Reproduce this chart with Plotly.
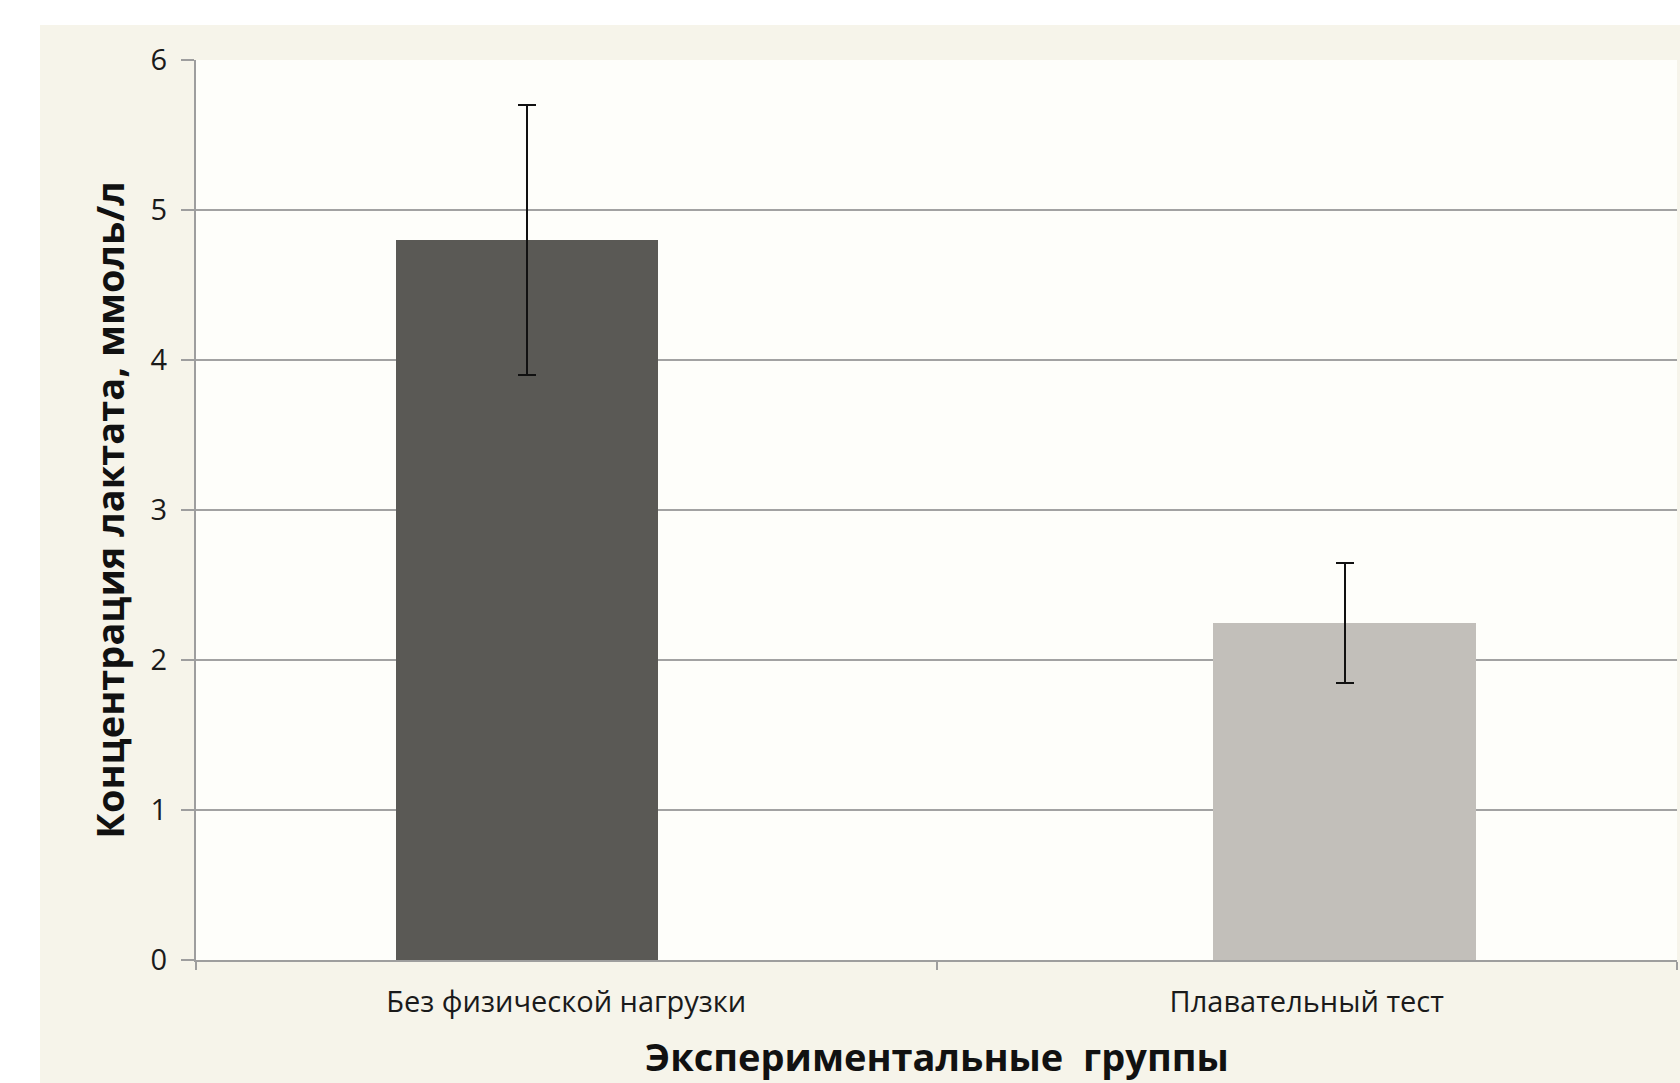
import plotly.graph_objects as go

categories = ["Без физической нагрузки", "Плавательный тест"]
means = [4.8, 2.25]
errors = [0.9, 0.4]
bar_colors = ["#5A5955", "#C2BFBA"]
y_ticks = [0, 1, 2, 3, 4, 5, 6]
x_title = "Экспериментальные  группы"
y_title = "Концентрация лактата, ммоль/л"

W, H = 1680, 1083
L, R, T, B = 196, 3, 60, 123
pw, ph = W - L - R, H - T - B

def px_x(x):
    return (x - L) / pw

def px_y(y):
    return (H - B - y) / ph

offsets = [-0.23, -0.126]
bw = 0.354

fig = go.Figure()
for i, (c, m, e) in enumerate(zip(categories, means, errors)):
    fig.add_trace(go.Bar(
        x=[c], y=[m],
        marker=dict(color=bar_colors[i], line=dict(width=0)),
        width=bw, offset=offsets[i],
        error_y=dict(type="data", array=[e], visible=True, color="#111111", thickness=2, width=9),
        showlegend=False,
    ))

tick_font = dict(family="Open Sans, sans-serif", size=29, color="#1a1a1a")
title_font = dict(family="Open Sans, sans-serif", size=38, color="#111111")

fig.update_layout(
    width=W, height=H,
    margin=dict(l=L, r=R, t=T, b=B, autoexpand=False),
    paper_bgcolor="#F6F4EA",
    plot_bgcolor="#FEFEFA",
    bargap=0,
    xaxis=dict(
        type="category", range=[-0.5, 1.5],
        showline=True, linecolor="#9E9E9E", linewidth=2,
        ticks="outside", tickson="boundaries", ticklen=8, tickcolor="#9E9E9E", tickwidth=2,
        tickfont=tick_font, ticklabelstandoff=15,
        showgrid=False,
    ),
    yaxis=dict(
        range=[0, 6], tickvals=y_ticks,
        showline=True, linecolor="#9E9E9E", linewidth=2,
        ticks="outside", ticklen=13, tickcolor="#9E9E9E", tickwidth=2,
        tickfont=tick_font, ticklabelstandoff=8,
        showgrid=True, gridcolor="#A2A2A2", gridwidth=2,
        zeroline=False,
        title=dict(text="<b>" + y_title + "</b>", font=title_font, standoff=14),
    ),
    annotations=[
        dict(text="<b>" + x_title + "</b>", xref="paper", yref="paper", x=0.5, y=px_y(1056),
             xanchor="center", yanchor="middle", showarrow=False, font=title_font),
    ],
    shapes=[
        dict(type="rect", xref="paper", yref="paper", x0=px_x(0), x1=px_x(W), y0=px_y(25), y1=px_y(0),
             fillcolor="white", line=dict(width=0), layer="above"),
        dict(type="rect", xref="paper", yref="paper", x0=px_x(0), x1=px_x(40), y0=px_y(H), y1=px_y(0),
             fillcolor="white", line=dict(width=0), layer="above"),
    ],
)

fig.write_html(
    "out.html",
    config={"displayModeBar": False},
    post_script="document.body.style.margin='0';document.body.style.overflow='hidden';",
)
